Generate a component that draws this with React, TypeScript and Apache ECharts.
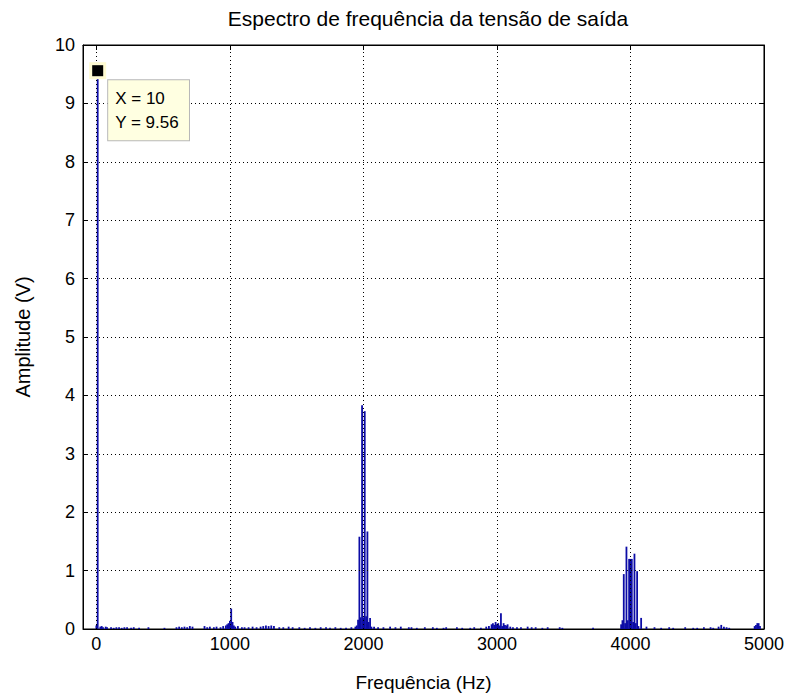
import React, { useEffect, useRef } from "react";
import * as echarts from "echarts";

// Spectrum bins (Hz) that carry visible energy, and their amplitudes (V)
const freqHz: number[] = [
  0, 10, 30, 40, 50, 70, 80, 110, 130, 150, 170, 190, 210, 230, 260, 280, 320, 390, 510,
  600, 620, 640, 660, 680, 700, 720, 810, 830, 850, 880, 900, 930, 950, 970, 980, 990,
  1000, 1010, 1020, 1030, 1040, 1060, 1090, 1110, 1140, 1170, 1200, 1230, 1250, 1270,
  1290, 1310, 1330, 1370, 1400, 1440, 1470, 1520, 1560, 1600, 1640, 1680, 1720, 1750,
  1790, 1830, 1870, 1910, 1940, 1950, 1960, 1970, 1980, 1990, 2000, 2010, 2020, 2030,
  2040, 2050, 2060, 2080, 2110, 2150, 2200, 2240, 2280, 2340, 2360, 2400, 2460, 2520,
  2550, 2600, 2620, 2700, 2740, 2800, 2830, 2880, 2920, 2940, 2960, 2970, 2980, 2990,
  3000, 3010, 3020, 3030, 3040, 3050, 3060, 3070, 3080, 3100, 3120, 3150, 3180, 3230,
  3260, 3290, 3340, 3380, 3470, 3490, 3720, 3930, 3940, 3950, 3960, 3970, 3980, 3990,
  4000, 4010, 4020, 4030, 4040, 4050, 4060, 4080, 4120, 4180, 4230, 4290, 4320, 4410,
  4470, 4500, 4550, 4600, 4620, 4660, 4680, 4700, 4720, 4740, 4930, 4940, 4950, 4960,
  4970,
];
const amplitudeV: number[] = [
  0.06, 9.56, 0.04, 0.05, 0.03, 0.04, 0.03, 0.03, 0.02, 0.03, 0.03, 0.02, 0.03, 0.03, 0.02, 0.03, 0.02, 0.03, 0.02,
  0.03, 0.04, 0.03, 0.04, 0.03, 0.05, 0.04, 0.05, 0.03, 0.04, 0.03, 0.04, 0.03, 0.05, 0.06, 0.08, 0.1,
  0.14, 0.35, 0.12, 0.06, 0.04, 0.05, 0.03, 0.03, 0.03, 0.04, 0.03, 0.04, 0.05, 0.06,
  0.05, 0.06, 0.05, 0.03, 0.03, 0.04, 0.03, 0.03, 0.02, 0.03, 0.02, 0.03, 0.03, 0.02,
  0.03, 0.02, 0.02, 0.03, 0.04, 0.06, 0.16, 1.58, 0.2, 3.83, 0.2, 3.73, 0.22, 1.67,
  0.12, 0.19, 0.04, 0.04, 0.03, 0.03, 0.04, 0.03, 0.04, 0.03, 0.03, 0.02, 0.03, 0.03,
  0.02, 0.02, 0.03, 0.03, 0.02, 0.02, 0.03, 0.02, 0.04, 0.05, 0.08, 0.1, 0.07, 0.12,
  0.08, 0.1, 0.06, 0.27, 0.05, 0.1, 0.07, 0.06, 0.08, 0.04, 0.03, 0.03, 0.03, 0.04,
  0.03, 0.03, 0.02, 0.03, 0.03, 0.02, 0.02, 0.08, 0.15, 0.94, 0.1, 1.41, 0.15, 1.2,
  1.2, 1.2, 0.12, 1.29, 0.1, 0.99, 0.05, 0.19, 0.04, 0.03, 0.02, 0.03, 0.02, 0.03,
  0.02, 0.02, 0.03, 0.03, 0.02, 0.04, 0.07, 0.04, 0.03, 0.02, 0.05, 0.07, 0.1, 0.1,
  0.05,
];

const xTicks: number[] = [0, 1000, 2000, 3000, 4000, 5000];
const yGridValues: number[] = [1, 2, 3, 4, 5, 6, 7, 8, 9, 10];

const FONT = "Liberation Sans, Arial, sans-serif";

export default function App() {
  const ref = useRef<HTMLDivElement>(null);

  useEffect(() => {
    if (!ref.current) return;
    const chart = echarts.init(ref.current, undefined, { renderer: "svg" });

    const points = freqHz.map((f, i) => [f, amplitudeV[i]]);
    let peak = 0;
    amplitudeV.forEach((v, i) => {
      if (v > amplitudeV[peak]) peak = i;
    });
    const peakX = freqHz[peak];
    const peakY = amplitudeV[peak];

    const gridLine = { color: "#000", width: 1, type: [1, 3] as number[] };

    const tickLabel = { color: "#000", fontFamily: FONT, fontSize: 18 };
    const plain = (v: number) => String(v);

    chart.setOption({
      animation: false,
      backgroundColor: "#fff",
      title: {
        text: "Espectro de frequência da tensão de saída",
        left: 423,
        textAlign: "center",
        top: 3,
        textStyle: { color: "#000", fontFamily: FONT, fontSize: 21, fontWeight: "normal" },
      },
      grid: {
        left: 83,
        right: 23,
        top: 45,
        bottom: 64,
        show: true,
        borderColor: "#000",
        borderWidth: 1,
        backgroundColor: "transparent",
      },
      xAxis: [
        {
          type: "value",
          min: -100,
          max: 5000,
          position: "bottom",
          name: "Frequência (Hz)",
          nameLocation: "middle",
          nameGap: 44,
          nameTextStyle: { color: "#000", fontFamily: FONT, fontSize: 19 },
          axisLine: { show: true, onZero: false, lineStyle: { color: "#000" } },
          axisTick: { show: true, inside: true, length: 5, customValues: xTicks, lineStyle: { color: "#000" } },
          axisLabel: { ...tickLabel, margin: 6, customValues: xTicks, formatter: plain },
          splitLine: { show: false },
        },
        {
          type: "value",
          min: -100,
          max: 5000,
          position: "top",
          axisLine: { show: true, onZero: false, lineStyle: { color: "#000" } },
          axisTick: { show: true, inside: true, length: 5, customValues: xTicks, lineStyle: { color: "#000" } },
          axisLabel: { show: false, customValues: xTicks },
          splitLine: { show: false },
        },
      ],
      yAxis: [
        {
          type: "value",
          min: 0,
          max: 10,
          interval: 1,
          position: "left",
          name: "Amplitude (V)",
          nameLocation: "middle",
          nameGap: 50,
          nameTextStyle: { color: "#000", fontFamily: FONT, fontSize: 20 },
          axisLine: { show: true, onZero: false, lineStyle: { color: "#000" } },
          axisTick: { show: true, inside: true, length: 5, lineStyle: { color: "#000" } },
          axisLabel: { ...tickLabel, margin: 8, formatter: plain },
          splitLine: { show: false },
        },
        {
          type: "value",
          min: 0,
          max: 10,
          interval: 1,
          position: "right",
          axisLine: { show: true, onZero: false, lineStyle: { color: "#000" } },
          axisTick: { show: true, inside: true, length: 5, lineStyle: { color: "#000" } },
          axisLabel: { show: false },
          splitLine: { show: false },
        },
      ],
      series: [
        {
          type: "line",
          data: [],
          silent: true,
          markLine: {
            silent: true,
            symbol: "none",
            label: { show: false },
            lineStyle: gridLine,
            data: [
              ...xTicks.map((v) => ({ xAxis: v })),
              ...yGridValues.map((v) => ({ yAxis: v })),
            ],
          },
        },
        {
          type: "bar",
          data: points,
          barWidth: 1.8,
          itemStyle: { color: "#0c0ca6" },
          silent: true,
          z: 3,
          markPoint: {
            silent: true,
            data: [
              {
                coord: [peakX, peakY],
                symbol: "rect",
                symbolSize: 17,
                itemStyle: { color: "#fffbd2" },
                label: { show: false },
              },
              {
                coord: [peakX, peakY],
                symbol: "rect",
                symbolSize: 11,
                itemStyle: { color: "#000" },
                label: {
                  show: true,
                  position: [16, 15],
                  align: "left",
                  verticalAlign: "top",
                  formatter: `X = ${peakX}\nY = ${peakY}`,
                  color: "#000",
                  fontFamily: FONT,
                  fontSize: 17,
                  lineHeight: 24,
                  backgroundColor: "#ffffe1",
                  borderColor: "#b8b8b8",
                  borderWidth: 1,
                  padding: [6, 10, 6, 7],
                },
              },
            ],
          },
        },
      ],
    });

    return () => chart.dispose();
  }, []);

  return (
    <div
      ref={ref}
      style={{ position: "absolute", left: 0, top: 0, width: 787, height: 697 }}
    />
  );
}
